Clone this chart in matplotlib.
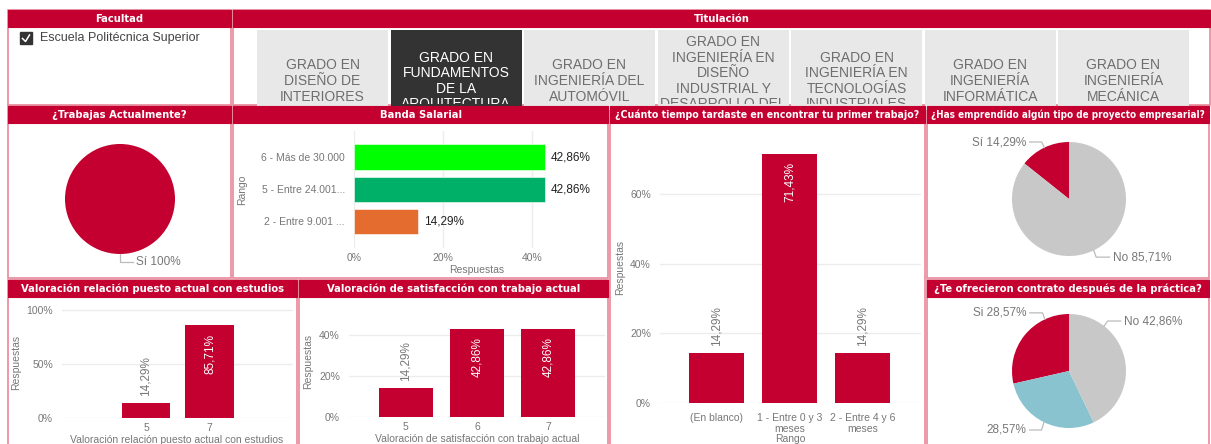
import numpy as np
import matplotlib
matplotlib.use("Agg")
import matplotlib.pyplot as plt
from matplotlib import font_manager
from matplotlib.patches import Rectangle
from matplotlib.transforms import Bbox, TransformedBbox

W, H = 1211, 444
RED = "#C3002F"
PINK = "#E8879A"
TXT = "#777777"
GRID = "#ECECEC"

fonts = font_manager.fontManager.ttflist
names = {f.name for f in fonts}
if "Liberation Sans Narrow" in names:
    HEAD_FONT = dict(family=["Liberation Sans Narrow", "DejaVu Sans"])
elif any(f.name == "DejaVu Sans" and f.stretch == "condensed" for f in fonts):
    HEAD_FONT = dict(family=["DejaVu Sans"], stretch="condensed")
else:
    HEAD_FONT = dict(family=["Liberation Sans", "DejaVu Sans"])
plt.rcParams["font.family"] = ["Liberation Sans", "DejaVu Sans"]

# ---------------- data ----------------
facultad = "Escuela Politécnica Superior"
titulaciones = [
    ["GRADO EN", "DISEÑO DE", "INTERIORES"],
    ["GRADO EN", "FUNDAMENTOS", "DE LA", "ARQUITECTURA"],
    ["GRADO EN", "INGENIERÍA DEL", "AUTOMÓVIL"],
    ["GRADO EN", "INGENIERÍA EN", "DISEÑO", "INDUSTRIAL Y", "DESARROLLO DEL", "PRODUCTO"],
    ["GRADO EN", "INGENIERÍA EN", "TECNOLOGÍAS", "INDUSTRIALES"],
    ["GRADO EN", "INGENIERÍA", "INFORMÁTICA"],
    ["GRADO EN", "INGENIERÍA", "MECÁNICA"],
]
titulacion_sel = 1

trabaja_labels = ["Sí"]
trabaja_vals = [100.0]

banda_cats = ["6 - Más de 30.000", "5 - Entre 24.001...", "2 - Entre 9.001 ..."]
banda_vals = [42.86, 42.86, 14.29]
banda_colors = ["#00FF00", "#00AF68", "#E36C2E"]

tiempo_cats = ["(En blanco)", "1 - Entre 0 y 3\nmeses", "2 - Entre 4 y 6\nmeses"]
tiempo_vals = [14.29, 71.43, 14.29]

empr_labels = ["Sí", "No"]
empr_vals = [14.29, 85.71]

rel_cats = ["5", "7"]
rel_vals = [14.29, 85.71]

sat_cats = ["5", "6", "7"]
sat_vals = [14.29, 42.86, 42.86]

contr_labels = ["Si", "", "No"]
contr_vals = [28.57, 28.57, 42.86]


def pct(v):
    return f"{v:.2f}".replace(".", ",") + "%"


fig = plt.figure(figsize=(W / 100, H / 100), dpi=100)
fig.patch.set_facecolor("white")
bg = fig.add_axes([0, 0, 1, 1])
bg.set_xlim(0, W); bg.set_ylim(H, 0); bg.axis("off")
renderer = fig.canvas.get_renderer()


def px_axes(x0, y0, x1, y1):
    return fig.add_axes([x0 / W, 1 - y1 / H, (x1 - x0) / W, (y1 - y0) / H])


# ---------------- panels + headers ----------------
panels = [
    ("Facultad", 8, 10, 231, 105),
    ("Titulación", 233, 10, 1210, 105),
    ("¿Trabajas Actualmente?", 8, 106, 231, 278),
    ("Banda Salarial", 233, 106, 608, 278),
    ("¿Cuánto tiempo tardaste en encontrar tu primer trabajo?", 610, 106, 925, 447),
    ("¿Has emprendido algún tipo de proyecto empresarial?", 927, 106, 1209, 278),
    ("Valoración relación puesto actual con estudios", 8, 280, 297, 447),
    ("Valoración de satisfacción con trabajo actual", 299, 280, 608, 447),
    ("¿Te ofrecieron contrato después de la práctica?", 927, 280, 1209, 447),
]
for title, x0, y0, x1, y1 in panels:
    bg.add_patch(Rectangle((x0, y0), x1 - x0, y1 - y0, fc="white", ec=PINK, lw=1.2, zorder=1))
    bg.add_patch(Rectangle((x0, y0), x1 - x0, 17, fc=RED, ec=RED, lw=0.8, zorder=3))
    t = bg.text((x0 + x1) / 2, y0 + 8.5, title, ha="center", va="center", color="white",
                fontsize=8, fontweight="bold", zorder=4, **HEAD_FONT)
    # shrink the title until it fits its header bar
    wpx = t.get_window_extent(renderer).width
    if wpx > (x1 - x0) - 8:
        t.set_fontsize(8 * ((x1 - x0) - 8) / wpx)

# facultad slicer
bg.add_patch(Rectangle((20, 32), 12, 12, fc="#333333", ec="#333333", zorder=2))
bg.plot([22.5, 25.5, 29.5], [38.5, 41.5, 35], color="white", lw=1.1, zorder=2.5)
bg.text(40, 38.5, facultad, ha="left", va="center", fontsize=9, color="#444444", zorder=2)

# titulacion tiles (text centred in the tile, cut off by the next row)
clip = TransformedBbox(Bbox([[233, 28], [1210, 104]]), bg.transData)
for i, lines in enumerate(titulaciones):
    tx0 = 257 + i * 133.5
    sel = i == titulacion_sel
    bg.add_patch(Rectangle((tx0, 30), 131, 80, fc="#333333" if sel else "#E8E8E8",
                           ec="none", zorder=1.5, clip_box=clip, clip_on=True))
    n = len(lines)
    for j, ln in enumerate(lines):
        yl = 81 + (j - (n - 1) / 2) * 15.6
        if yl > 108:          # fully hidden behind the next row
            continue
        t = bg.text(tx0 + 65.5, yl, ln, ha="center", va="center",
                    fontsize=10, color="white" if sel else "#6E6E6E", zorder=1.6)
        t.set_clip_box(clip); t.set_clip_on(True)


def style(ax, grid_axis):
    for sp in ax.spines.values():
        sp.set_visible(False)
    ax.tick_params(length=0, labelsize=7.5, labelcolor=TXT)
    ax.grid(axis=grid_axis, color=GRID, lw=1)
    ax.set_axisbelow(True)


def set_labels(ax, rect, xl=None, yl=None):
    x0, y0, x1, y1 = rect
    if xl is not None:
        ax.xaxis.set_label_coords((xl[0] - x0) / (x1 - x0), (y1 - xl[1]) / (y1 - y0))
    if yl is not None:
        ax.yaxis.set_label_coords((yl[0] - x0) / (x1 - x0), (y1 - yl[1]) / (y1 - y0))


def vbar_labels(ax, bars, vals, inside_min):
    for b, v in zip(bars, vals):
        xc = b.get_x() + b.get_width() / 2
        if v >= inside_min:
            ax.annotate(pct(v), (xc, v), xytext=(0, -6), textcoords="offset points",
                        rotation=90, ha="center", va="top", color="white", fontsize=8.5)
        else:
            ax.annotate(pct(v), (xc, v), xytext=(0, 5), textcoords="offset points",
                        rotation=90, ha="center", va="bottom", color=TXT, fontsize=8.5)


# ---------------- Banda Salarial ----------------
r = (354, 131, 600, 248)
ax = px_axes(*r)
yb = np.arange(len(banda_cats))
bars = ax.barh(yb, banda_vals, height=0.78, color=banda_colors, edgecolor="white", lw=0.4)
ax.set_yticks(yb, banda_cats)
ax.set_ylim(2.83, -0.81)
ax.set_xlim(0, 55.3)
ax.set_xticks([0, 20, 40], ["0%", "20%", "40%"])
style(ax, "x")
ax.tick_params(axis="y", pad=6.5)
ax.tick_params(axis="x", pad=3.5)
ax.bar_label(bars, labels=[pct(v) for v in banda_vals], padding=4.5, fontsize=8.5, color="#222222")
ax.set_xlabel("Respuestas", fontsize=7.5, color=TXT)
ax.set_ylabel("Rango", fontsize=7.5, color=TXT)
set_labels(ax, r, xl=(477, 265), yl=(247, 190))

# ---------------- Tiempo ----------------
r = (660, 130, 921, 403)
ax = px_axes(*r)
xt = np.arange(len(tiempo_cats))
bars = ax.bar(xt, tiempo_vals, width=0.75, color=RED)
ax.set_xticks(xt, tiempo_cats)
ax.set_xlim(-0.77, 2.80)
ax.set_ylim(0, 78.3)
ax.set_yticks([0, 20, 40, 60], ["0%", "20%", "40%", "60%"])
style(ax, "y")
ax.tick_params(axis="y", pad=6.5)
ax.tick_params(axis="x", pad=7)
vbar_labels(ax, bars, tiempo_vals, 30)
ax.set_xlabel("Rango", fontsize=7.5, color=TXT)
ax.set_ylabel("Respuestas", fontsize=7.5, color=TXT)
set_labels(ax, r, xl=(790, 434), yl=(625, 267))

# ---------------- Valoración relación ----------------
r = (62, 305, 293, 418)
ax = px_axes(*r)
xr = np.arange(len(rel_cats))
bars = ax.bar(xr, rel_vals, width=0.76, color=RED)
ax.set_xticks(xr, rel_cats)
ax.set_xlim(-1.32, 2.31)
ax.set_ylim(0, 104.6)
ax.set_yticks([0, 50, 100], ["0%", "50%", "100%"])
style(ax, "y")
ax.tick_params(axis="y", pad=6.5)
ax.tick_params(axis="x", pad=3.5)
vbar_labels(ax, bars, rel_vals, 30)
ax.set_xlabel("Valoración relación puesto actual con estudios", fontsize=7.5, color=TXT)
ax.set_ylabel("Respuestas", fontsize=7.5, color=TXT)
set_labels(ax, r, xl=(177, 435), yl=(21, 362))

# ---------------- Satisfacción ----------------
r = (349, 310, 605, 417)
ax = px_axes(*r)
xs = np.arange(len(sat_cats))
bars = ax.bar(xs, sat_vals, width=0.76, color=RED)
ax.set_xticks(xs, sat_cats)
ax.set_xlim(-0.80, 2.80)
ax.set_ylim(0, 52)
ax.set_yticks([0, 20, 40], ["0%", "20%", "40%"])
style(ax, "y")
ax.tick_params(axis="y", pad=6.5)
ax.tick_params(axis="x", pad=3.5)
vbar_labels(ax, bars, sat_vals, 30)
ax.set_xlabel("Valoración de satisfacción con trabajo actual", fontsize=7.5, color=TXT)
ax.set_ylabel("Respuestas", fontsize=7.5, color=TXT)
set_labels(ax, r, xl=(477, 434), yl=(313, 361))


# ---------------- pies ----------------
def pie(cx, cy, rad, vals, colors, texts, specs):
    a = px_axes(cx - rad, cy - rad, cx + rad, cy + rad)
    wedges, _ = a.pie(vals, colors=colors, startangle=90, counterclock=True,
                      wedgeprops=dict(linewidth=0))
    a.set_xlim(-1, 1); a.set_ylim(-1, 1)
    for w, txt, sp in zip(wedges, texts, specs):
        if sp is None:
            continue
        ang, lx, ly, side = sp
        if ang is None:
            ang = (w.theta1 + w.theta2) / 2
        t = np.deg2rad(ang)
        ex, ey = np.cos(t), np.sin(t)
        kx = 1.1 * ex
        end = lx + (0.06 if side == "right" else -0.06)
        a.plot([ex, kx, end], [ey, ly, ly], color="#BBBBBB", lw=0.9, clip_on=False)
        a.text(lx, ly, txt, ha="right" if side == "right" else "left", va="center",
               fontsize=8.5, color=TXT, clip_on=False)
    return a


pie(120, 199, 55, trabaja_vals, [RED],
    [f"{l} {pct(v).replace(',00', '')}" for l, v in zip(trabaja_labels, trabaja_vals)],
    [(270, 0.29, -1.145, "left")])

pie(1069, 199, 57, empr_vals, [RED, "#C8C8C8"],
    [f"{l} {pct(v)}" for l, v in zip(empr_labels, empr_vals)],
    [(None, -0.75, 1.0, "right"), (None, 0.77, -1.02, "left")])

pie(1069, 371, 57, contr_vals, [RED, "#8AC3D0", "#C8C8C8"],
    [f"{l} {pct(v)}".strip() for l, v in zip(contr_labels, contr_vals)],
    [(115, -0.75, 1.02, "right"), (244, -0.75, -1.035, "right"), (52, 0.965, 0.877, "left")])

fig.savefig("out.png", dpi=100)
